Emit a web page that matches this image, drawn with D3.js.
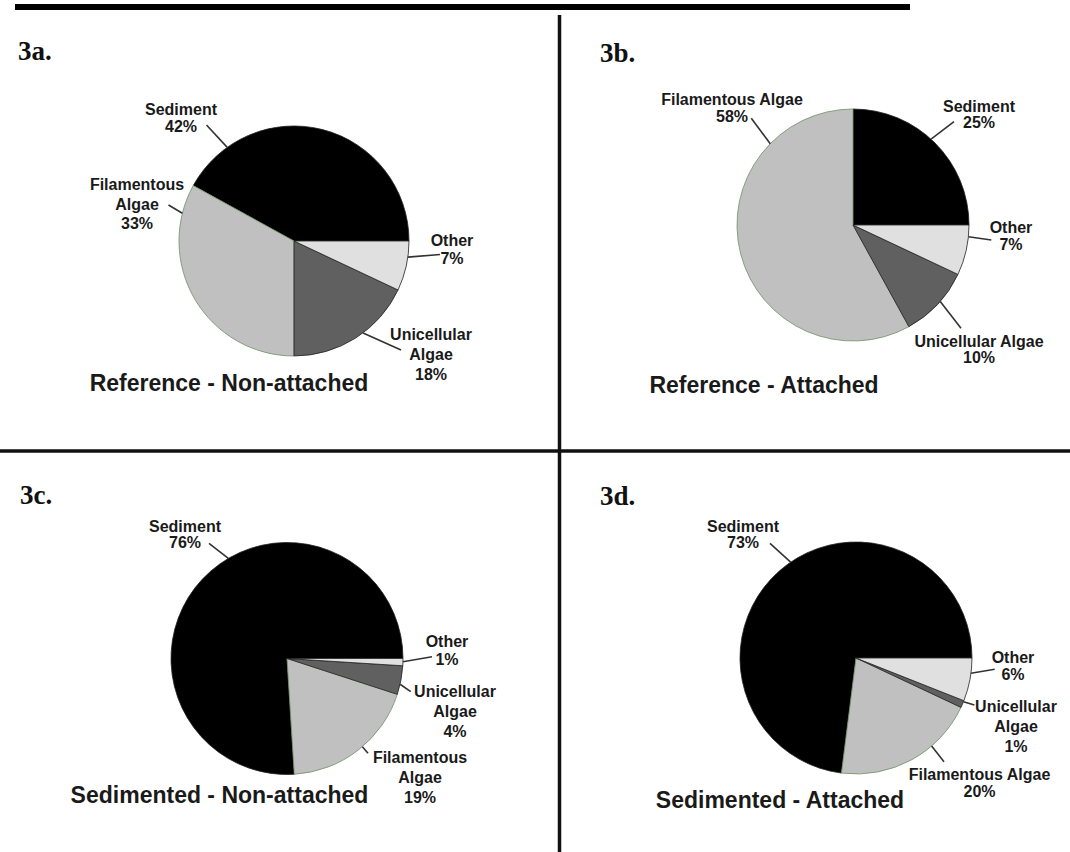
<!DOCTYPE html>
<html>
<head>
<meta charset="utf-8">
<script src="https://cdn.jsdelivr.net/npm/d3@7/dist/d3.min.js"></script>
<style>
  html, body { margin: 0; padding: 0; background: #fff; }
  svg { display: block; }
</style>
</head>
<body>
<script>
// Composition of material (%) by site and substrate
const categories = ["Sediment", "Filamentous Algae", "Unicellular Algae", "Other"];
const refNonAttached = [42, 33, 18, 7];
const refAttached = [25, 58, 10, 7];
const sedNonAttached = [76, 19, 4, 1];
const sedAttached = [73, 20, 1, 6];
const panelIds = ["3a.", "3b.", "3c.", "3d."];
const panelTitles = [
  "Reference - Non-attached",
  "Reference - Attached",
  "Sedimented - Non-attached",
  "Sedimented - Attached"
];
const panelValues = [refNonAttached, refAttached, sedNonAttached, sedAttached];

// Slice fills, one per category
const fills = ["#000000", "#c0c0c0", "#606060", "#e0e0e0"];

// Layout of each panel: pie centre/radius, id and title positions,
// and for every slice label: text anchor, line height, whether the
// name wraps, where along the slice the leader starts, and its end.
const layout = [
  { cx: 294, cy: 241, r: 115, id: [18, 60], title: [229, 390.5],
    labels: [
      { x: 181, y: 115,   lh: 16.7, wrap: false, t: 0.83,  end: [206.5, 125] },
      { x: 137, y: 190,   lh: 19.7, wrap: true,  t: 0.125, end: [168.5, 205] },
      { x: 431, y: 340,   lh: 20,   wrap: true,  t: 0.57,  end: [401, 350] },
      { x: 452, y: 245.5, lh: 18,   wrap: false, t: 0.68,  end: [440, 254.5] }
    ] },
  { cx: 853, cy: 225, r: 116, id: [600, 62], title: [764, 393],
    labels: [
      { x: 979, y: 111.7, lh: 16.7, wrap: false, t: 0.53,  end: [954, 121.7] },
      { x: 732, y: 105,   lh: 16.7, wrap: false, t: 0.218, end: [751.3, 118.3] },
      { x: 979, y: 346.7, lh: 16.7, wrap: false, t: 0.555, end: [961, 328.3] },
      { x: 1011, y: 233.3, lh: 16.7, wrap: false, t: 0.77, end: [991.3, 240] }
    ] },
  { cx: 287, cy: 658.5, r: 116, id: [20, 503.5], title: [219.5, 803.3],
    labels: [
      { x: 185, y: 531.7, lh: 16.7, wrap: false, t: 0.44, end: [209, 543.3] },
      { x: 420, y: 763.3, lh: 20,   wrap: true,  t: 0.54, end: [368, 753.3] },
      { x: 455, y: 696.7, lh: 20,   wrap: true,  t: 0.36, end: [410.7, 691.7] },
      { x: 447, y: 646.7, lh: 18.3, wrap: false, t: 0.55, end: [432, 656.7] }
    ] },
  { cx: 856, cy: 658, r: 116, id: [600, 505], title: [780, 807.7],
    labels: [
      { x: 743, y: 531.7,  lh: 16.7, wrap: false, t: 0.473, end: [770, 543.3] },
      { x: 979.5, y: 780,  lh: 16.7, wrap: false, t: 0.665, end: [944, 761.7] },
      { x: 1016, y: 711.7, lh: 20,   wrap: true,  t: 0.85,  end: [974.4, 705] },
      { x: 1013, y: 663.3, lh: 16.7, wrap: false, t: 0.65,  end: [994.7, 669.3] }
    ] }
];

const W = 1070, H = 852;
const svg = d3.select("body").append("svg")
  .attr("width", W).attr("height", H)
  .attr("viewBox", `0 0 ${W} ${H}`);

// Frame rules
svg.append("line").attr("x1", 15).attr("x2", 910).attr("y1", 7).attr("y2", 7)
  .attr("stroke", "#000").attr("stroke-width", 6);
svg.append("line").attr("x1", 559.5).attr("x2", 559.5).attr("y1", 15).attr("y2", H)
  .attr("stroke", "#111").attr("stroke-width", 3.5);
svg.append("line").attr("x1", 0).attr("x2", W).attr("y1", 451).attr("y2", 451)
  .attr("stroke", "#111").attr("stroke-width", 3.5);

// Slices run counter-clockwise from 3 o'clock, in category order
const pie = d3.pie().sort(null)
  .startAngle(Math.PI / 2)
  .endAngle(Math.PI / 2 - 2 * Math.PI);

panelValues.forEach((values, pi) => {
  const L = layout[pi];
  const data = values.map((v, i) => ({ name: categories[i], value: v, i }));
  const arcs = pie.value(d => d.value)(data);
  const arc = d3.arc().innerRadius(0).outerRadius(L.r);

  const g = svg.append("g").attr("transform", `translate(${L.cx},${L.cy})`);

  g.selectAll("path.slice").data(arcs).join("path")
    .attr("class", "slice")
    .attr("d", arc)
    .attr("fill", d => fills[d.data.i])
    .attr("stroke", d => d.data.i === 1 ? "#6f8f68" : "#222")
    .attr("stroke-width", 0.8);

  // Leader lines from the slice rim to each label
  const leaders = arcs.map((a, i) => {
    const lab = L.labels[i];
    const ang = a.startAngle + lab.t * (a.endAngle - a.startAngle);
    return {
      x1: L.cx + L.r * Math.sin(ang),
      y1: L.cy - L.r * Math.cos(ang),
      x2: lab.end[0], y2: lab.end[1]
    };
  });
  svg.append("g").selectAll("line").data(leaders).join("line")
    .attr("x1", d => d.x1).attr("y1", d => d.y1)
    .attr("x2", d => d.x2).attr("y2", d => d.y2)
    .attr("stroke", "#333").attr("stroke-width", 1.6);

  // Slice labels: name and percentage, centred
  arcs.forEach((a, i) => {
    const lab = L.labels[i];
    const nameLines = lab.wrap ? a.data.name.split(" ") : [a.data.name];
    const lines = nameLines.concat([a.data.value + "%"]);
    const txt = svg.append("text")
      .attr("x", lab.x).attr("y", lab.y)
      .attr("text-anchor", "middle")
      .attr("font-family", "'Liberation Sans', Arial, sans-serif")
      .attr("font-weight", "bold")
      .attr("font-size", 16)
      .attr("fill", "#1a1a1a");
    lines.forEach((s, k) => {
      txt.append("tspan").attr("x", lab.x).attr("y", lab.y + k * lab.lh).text(s);
    });
  });

  // Panel id
  svg.append("text")
    .attr("x", L.id[0]).attr("y", L.id[1])
    .attr("font-family", "'Liberation Serif', 'Times New Roman', serif")
    .attr("font-weight", "bold").attr("font-size", 27)
    .attr("fill", "#111")
    .text(panelIds[pi]);

  // Panel title
  svg.append("text")
    .attr("x", L.title[0]).attr("y", L.title[1])
    .attr("text-anchor", "middle")
    .attr("font-family", "'Liberation Sans', Arial, sans-serif")
    .attr("font-weight", "bold").attr("font-size", 23)
    .attr("fill", "#1a1a1a")
    .text(panelTitles[pi]);
});
</script>
</body>
</html>
